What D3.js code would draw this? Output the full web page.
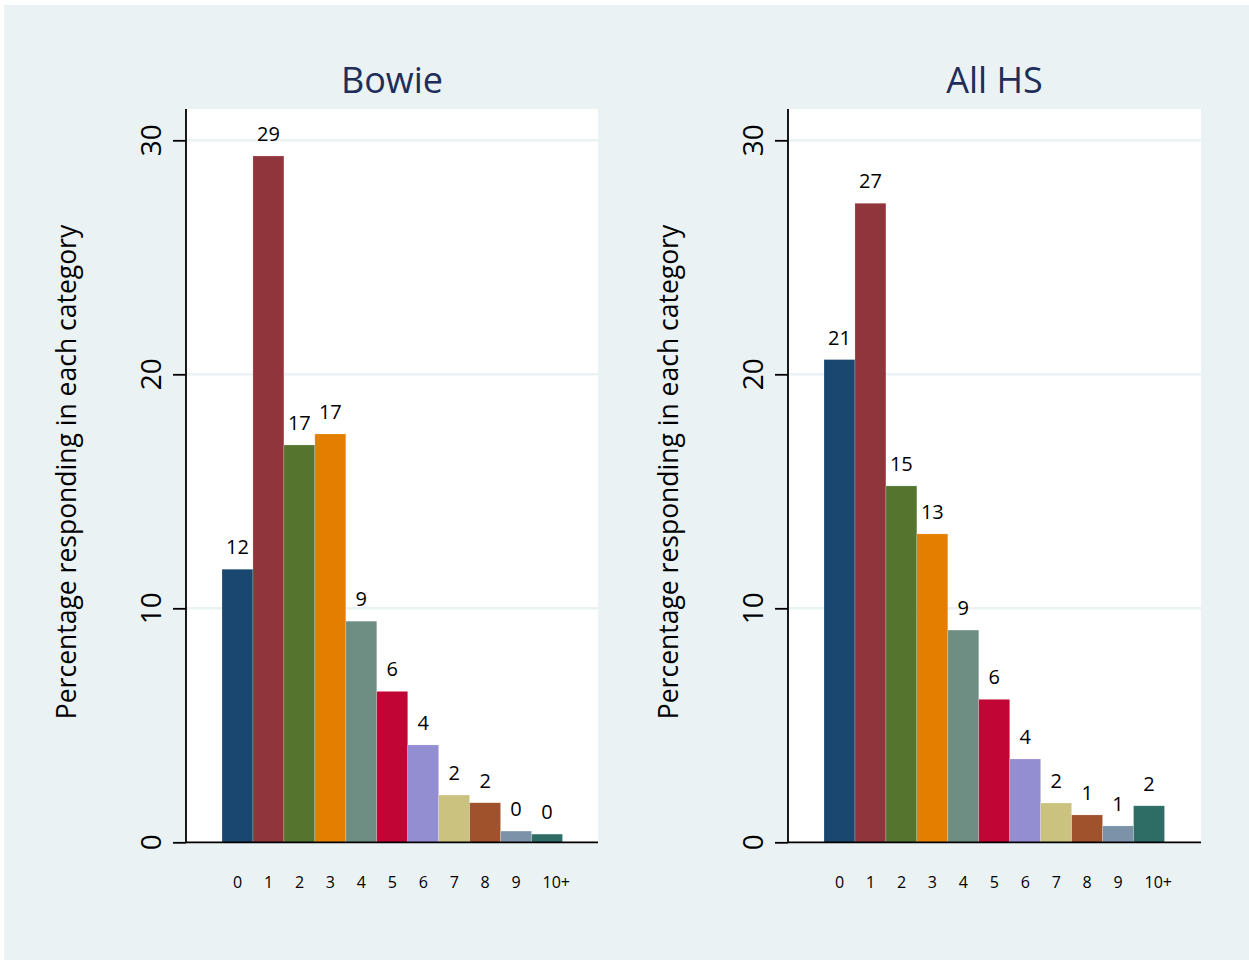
<!DOCTYPE html>
<html>
<head>
<meta charset="utf-8">
<script src="https://cdn.jsdelivr.net/npm/d3@7"></script>
<style>
  html, body { margin: 0; padding: 0; background: #ffffff; }
  svg { display: block; }
  text { font-family: "Open Sans", "Noto Sans", sans-serif; }
</style>
</head>
<body>
<svg id="chart" width="1249" height="961"></svg>
<script>
// ---- data ----
const categories = ["0", "1", "2", "3", "4", "5", "6", "7", "8", "9", "10+"];
const panelTitles = ["Bowie", "All HS"];
const bowieValues = [11.67, 29.33, 16.98, 17.45, 9.45, 6.45, 4.16, 2.02, 1.69, 0.48, 0.35];
const allHSValues = [20.63, 27.31, 15.23, 13.18, 9.07, 6.11, 3.56, 1.68, 1.17, 0.70, 1.56];
const yTicks = [0, 10, 20, 30];
const yAxisTitle = "Percentage responding in each category";
const barColors = ["#1a476f", "#90353b", "#55752f", "#e37e00", "#6e8e84", "#c10534",
                   "#938dd2", "#cac27e", "#a0522d", "#7b92a8", "#2d6d66"];

const svg = d3.select("#chart");

// background
svg.append("rect").attr("x", 4).attr("y", 5).attr("width", 1245).attr("height", 955)
  .attr("fill", "#eaf2f3");

const plotTop = 109, plotBottom = 842;
const y = d3.scaleLinear().domain([0, 30]).range([842.3, 140.3]);

function drawPanel(x0, x1, title, values) {
  const g = svg.append("g");
  // plot region
  g.append("rect").attr("x", x0).attr("y", plotTop).attr("width", x1 - x0)
    .attr("height", plotBottom - plotTop).attr("fill", "#ffffff");

  // gridlines
  g.selectAll("line.grid").data(yTicks.filter(t => t > 0)).enter().append("line")
    .attr("class", "grid")
    .attr("x1", x0).attr("x2", x1)
    .attr("y1", d => y(d)).attr("y2", d => y(d))
    .attr("stroke", "#eaf2f3").attr("stroke-width", 2.5);

  const x = d3.scaleBand().domain(categories).range([x0 + 36, x0 + 376.5]).padding(0);

  // bars
  g.selectAll("rect.bar").data(values).enter().append("rect")
    .attr("class", "bar")
    .attr("x", (d, i) => x(categories[i]))
    .attr("width", x.bandwidth())
    .attr("y", d => y(d))
    .attr("height", d => y(0) - y(d))
    .attr("fill", (d, i) => barColors[i])
    .attr("stroke", "#ffffff").attr("stroke-opacity", 0.35).attr("stroke-width", 0.6);

  // value labels
  g.selectAll("text.val").data(values).enter().append("text")
    .attr("class", "val")
    .attr("x", (d, i) => x(categories[i]) + x.bandwidth() / 2)
    .attr("y", d => y(d) - 15)
    .attr("text-anchor", "middle")
    .attr("font-size", 20)
    .attr("fill", "#000")
    .text(d => d3.format(".0f")(d));

  // x tick labels
  g.selectAll("text.xt").data(categories).enter().append("text")
    .attr("class", "xt")
    .attr("x", d => x(d) + x.bandwidth() / 2 - 4.5)
    .attr("y", 887.5)
    .attr("text-anchor", "start")
    .attr("font-size", 16)
    .attr("fill", "#000")
    .text(d => d);

  // y axis (ticks) via d3 axis
  const yAxis = d3.axisLeft(y).tickValues(yTicks).tickSize(13).tickFormat("");
  const ya = g.append("g").attr("transform", `translate(${x0},0)`).call(yAxis);
  ya.select(".domain").remove();
  ya.selectAll(".tick line").attr("stroke", "#000").attr("stroke-width", 1.8);

  // y tick labels rotated
  g.selectAll("text.yt").data(yTicks).enter().append("text")
    .attr("class", "yt")
    .attr("transform", d => `translate(${x0 - 25.5},${y(d)}) rotate(-90)`)
    .attr("text-anchor", "middle")
    .attr("font-size", 28)
    .attr("fill", "#000")
    .text(d => d);

  // axis lines
  g.append("line").attr("x1", x0).attr("x2", x0).attr("y1", plotTop).attr("y2", y(0))
    .attr("stroke", "#000").attr("stroke-width", 1.8);
  g.append("line").attr("x1", x0).attr("x2", x1).attr("y1", y(0)).attr("y2", y(0))
    .attr("stroke", "#000").attr("stroke-width", 1.8);

  // y axis title
  g.append("text")
    .attr("transform", `translate(${x0 - 110},${472}) rotate(-90)`)
    .attr("text-anchor", "middle")
    .attr("font-size", 26.5)
    .attr("fill", "#000")
    .text(yAxisTitle);

  // panel title
  g.append("text")
    .attr("x", (x0 + x1) / 2)
    .attr("y", 93)
    .attr("text-anchor", "middle")
    .attr("font-size", 36)
    .attr("fill", "#1e2d59")
    .text(title);
}

drawPanel(186, 598, panelTitles[0], bowieValues);
drawPanel(788, 1201, panelTitles[1], allHSValues);
</script>
</body>
</html>
